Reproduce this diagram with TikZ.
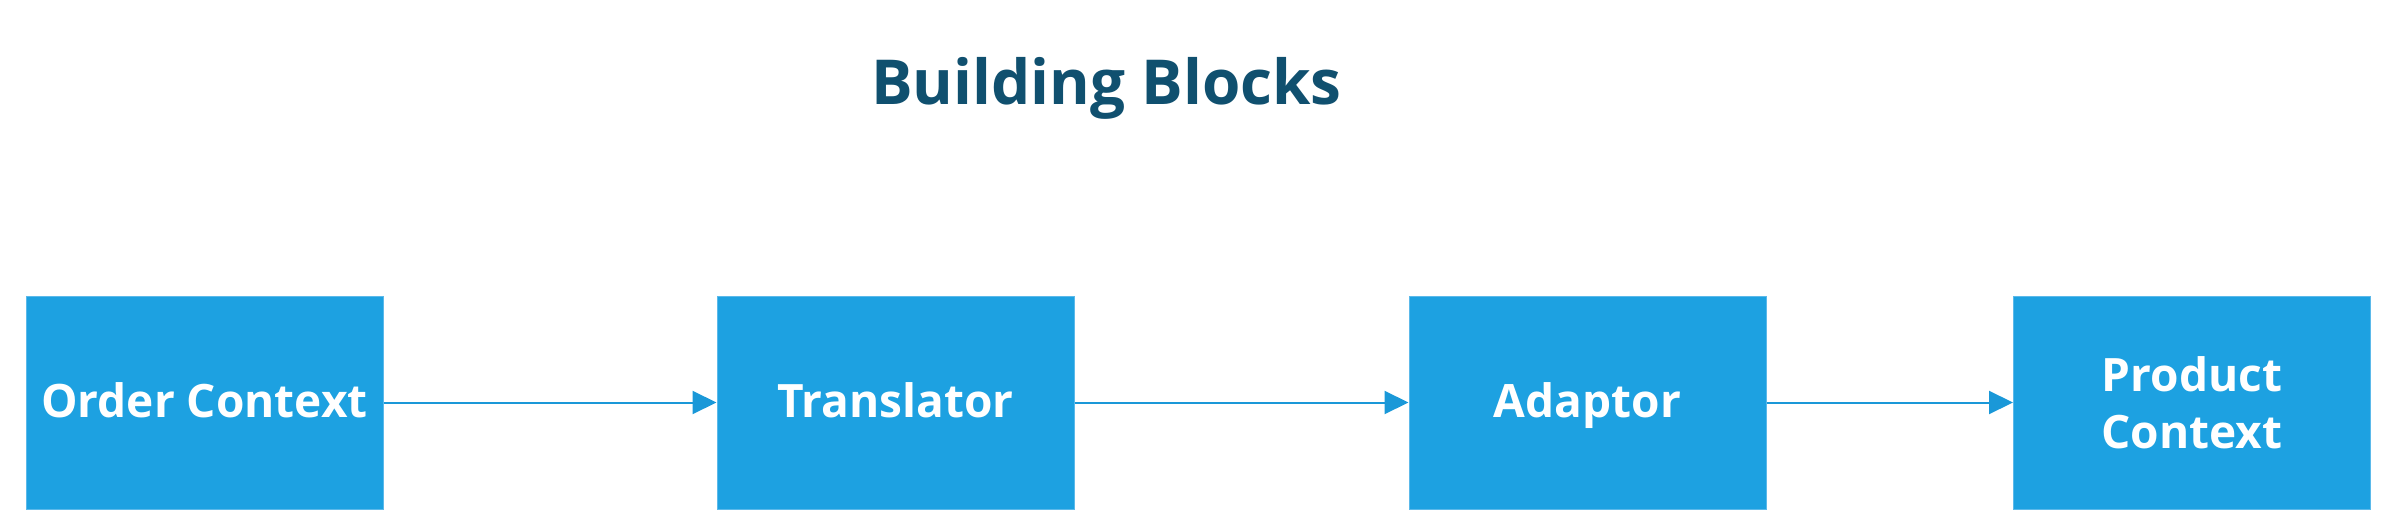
\documentclass[tikz,border=0pt]{standalone}
\usepackage{fontspec}
\setmainfont{Open Sans}
\usetikzlibrary{arrows.meta}
\definecolor{boxblue}{HTML}{1DA1E1}
\definecolor{boxedge}{HTML}{5BB9EA}
\definecolor{linkblue}{HTML}{1A98D8}
\definecolor{titleblue}{HTML}{10506F}
\begin{document}
\begin{tikzpicture}[x=1pt,y=-1pt,
  block/.style={rectangle, fill=boxblue, draw=boxedge, line width=1pt,
    minimum width=357pt, minimum height=213pt, inner sep=0pt,
    text=white, align=center, font=\fontsize{46}{57}\selectfont\bfseries},
  oneline/.style={text height=30pt, text depth=0pt},
  link/.style={draw=linkblue, line width=2pt,
    -{Triangle[length=24pt,width=23pt]}}]
\useasboundingbox (0,0) rectangle (2393,532);
\node[anchor=base, text=titleblue, font=\fontsize{62}{70}\selectfont\bfseries, inner sep=0pt] (title) at (1106.5,105) {Building Blocks};
\node[block, oneline] (order) at (204.5,402.5) {Order Context};
\node[block, oneline] (trans) at (895.5,402.5) {Translator};
\node[block, oneline] (adapt) at (1587.5,402.5) {Adaptor};
\node[block] (prod) at (2192,402.5) {Product\\Context};
\draw[link] (order) -- (trans);
\draw[link] (trans) -- (adapt);
\draw[link] (adapt) -- (prod);
\end{tikzpicture}
\end{document}
